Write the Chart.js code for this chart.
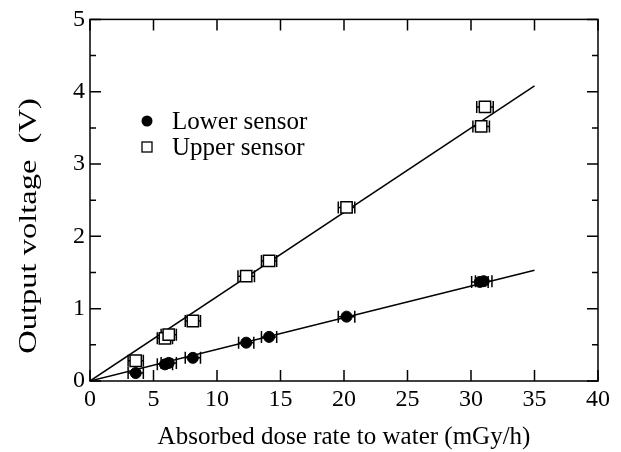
<!DOCTYPE html>
<html>
<head>
<meta charset="utf-8">
<script src="https://cdn.jsdelivr.net/npm/chart.js@4/dist/chart.umd.min.js"></script>
<style>
  html, body { margin: 0; padding: 0; background: #fff; }
  #wrap { width: 621px; height: 452px; }
</style>
</head>
<body>
<div id="wrap"><canvas id="c" width="621" height="452"></canvas></div>
<script>
// ---- data ----
const lowerDose   = [3.6, 5.9, 6.2, 8.1, 12.3, 14.1, 20.2, 30.7, 31.0];
const lowerVolt   = [0.11, 0.23, 0.25, 0.32, 0.53, 0.61, 0.89, 1.37, 1.38];
const lowerErr    = [0.6, 0.6, 0.6, 0.6, 0.6, 0.6, 0.65, 0.65, 0.65];

const upperDose   = [3.6, 5.9, 6.2, 8.1, 12.3, 14.1, 20.2, 30.8, 31.1];
const upperVolt   = [0.28, 0.59, 0.64, 0.83, 1.45, 1.66, 2.40, 3.52, 3.79];
const upperErr    = [0.6, 0.6, 0.6, 0.6, 0.65, 0.6, 0.65, 0.65, 0.65];

const lowerFitX   = [0, 35];
const lowerFitY   = [0, 1.53];
const upperFitX   = [0, 35];
const upperFitY   = [0, 4.08];

const xTicks      = [0, 5, 10, 15, 20, 25, 30, 35, 40];
const yTicks      = [0, 1, 2, 3, 4, 5];
const yMinorTicks = [0.5, 1.5, 2.5, 3.5, 4.5];

const seriesNames = ['Lower sensor', 'Upper sensor'];
const xTitle = 'Absorbed dose rate to water (mGy/h)';
const yTitle = 'Output voltage  (V)';

const FONT = "'Liberation Serif', 'Times New Roman', serif";

function pts(xs, ys) { return xs.map((x, i) => ({x: x, y: ys[i]})); }

const errPlugin = {
  id: 'errbars',
  beforeDatasetsDraw(chart) {
    const ctx = chart.ctx, xs = chart.scales.x, ys = chart.scales.y;
    ctx.save();
    ctx.strokeStyle = '#000';
    ctx.lineWidth = 1.5;
    chart.data.datasets.forEach(ds => {
      if (!ds.xErr) return;
      ds.data.forEach((p, i) => {
        const e = ds.xErr[i];
        const x1 = xs.getPixelForValue(p.x - e), x2 = xs.getPixelForValue(p.x + e);
        const y = ys.getPixelForValue(p.y);
        ctx.beginPath();
        ctx.moveTo(x1, y); ctx.lineTo(x2, y);
        ctx.moveTo(x1, y - 6); ctx.lineTo(x1, y + 6);
        ctx.moveTo(x2, y - 6); ctx.lineTo(x2, y + 6);
        ctx.stroke();
      });
    });
    ctx.restore();
  }
};

const framePlugin = {
  id: 'frame',
  afterDraw(chart) {
    const ctx = chart.ctx, a = chart.chartArea, xs = chart.scales.x, ys = chart.scales.y;
    ctx.save();
    ctx.strokeStyle = '#000';
    ctx.lineWidth = 1.5;
    ctx.strokeRect(a.left, a.top, a.right - a.left, a.bottom - a.top);
    ctx.beginPath();
    xTicks.forEach(v => {
      const x = xs.getPixelForValue(v);
      ctx.moveTo(x, a.bottom); ctx.lineTo(x, a.bottom - 11);
      ctx.moveTo(x, a.top); ctx.lineTo(x, a.top + 11);
    });
    yTicks.forEach(v => {
      const y = ys.getPixelForValue(v);
      ctx.moveTo(a.left, y); ctx.lineTo(a.left + 11, y);
      ctx.moveTo(a.right, y); ctx.lineTo(a.right - 11, y);
    });
    yMinorTicks.forEach(v => {
      const y = ys.getPixelForValue(v);
      ctx.moveTo(a.left, y); ctx.lineTo(a.left + 6, y);
      ctx.moveTo(a.right, y); ctx.lineTo(a.right - 6, y);
    });
    ctx.stroke();

    // y-axis title (wide-set, as in the reference)
    ctx.save();
    ctx.translate(29, 226);
    ctx.rotate(-Math.PI / 2);
    ctx.scale(1.3, 1);
    ctx.font = '25px ' + FONT;
    ctx.fillStyle = '#000';
    ctx.textAlign = 'center';
    ctx.textBaseline = 'middle';
    ctx.fillText(yTitle, 0, 0);
    ctx.restore();

    // legend
    ctx.font = '25px ' + FONT;
    ctx.fillStyle = '#000';
    ctx.textBaseline = 'middle';
    ctx.textAlign = 'left';
    ctx.beginPath();
    ctx.arc(147, 121, 5.5, 0, Math.PI * 2);
    ctx.fill();
    ctx.fillText(seriesNames[0], 172, 122);
    ctx.fillStyle = '#fff';
    ctx.fillRect(142, 142, 10, 10);
    ctx.lineWidth = 1.3;
    ctx.strokeRect(142, 142, 10, 10);
    ctx.fillStyle = '#000';
    ctx.fillText(seriesNames[1], 172, 148);
    ctx.restore();
  }
};

new Chart(document.getElementById('c'), {
  type: 'scatter',
  data: {
    datasets: [
      {
        label: seriesNames[0], data: pts(lowerDose, lowerVolt), xErr: lowerErr,
        pointStyle: 'circle', pointRadius: 5.5, pointHoverRadius: 5.5,
        backgroundColor: '#000', borderColor: '#000', borderWidth: 1, order: 1
      },
      {
        label: seriesNames[1], data: pts(upperDose, upperVolt), xErr: upperErr,
        pointStyle: 'rect', pointRadius: 8, pointHoverRadius: 8,
        backgroundColor: '#fff', borderColor: '#000', borderWidth: 1.5, order: 1
      },
      {
        label: 'fit lower', data: pts(lowerFitX, lowerFitY), showLine: true,
        pointRadius: 0, borderColor: '#000', borderWidth: 1.5, order: 3
      },
      {
        label: 'fit upper', data: pts(upperFitX, upperFitY), showLine: true,
        pointRadius: 0, borderColor: '#000', borderWidth: 1.5, order: 3
      }
    ]
  },
  options: {
    responsive: false,
    animation: false,
    layout: { padding: { left: 0, right: 23, top: 18, bottom: 0 } },
    plugins: { legend: { display: false }, tooltip: { enabled: false } },
    scales: {
      x: {
        type: 'linear', min: 0, max: 40,
        afterBuildTicks(s) { s.ticks = xTicks.map(v => ({value: v})); },
        afterFit(s) { s.height = 71; },
        grid: { display: false, drawTicks: false },
        border: { display: false },
        ticks: { color: '#000', padding: 4, maxRotation: 0, font: { family: FONT, size: 24 } },
        title: { display: true, text: xTitle, color: '#000', padding: { top: 0, bottom: 0 },
                 font: { family: FONT, size: 25 } }
      },
      y: {
        type: 'linear', min: 0, max: 5,
        afterBuildTicks(s) { s.ticks = yTicks.map(v => ({value: v})); },
        afterFit(s) { s.width = 90; },
        grid: { display: false, drawTicks: false },
        border: { display: false },
        ticks: { color: '#000', padding: 5, font: { family: FONT, size: 24 } },
        title: { display: false, text: yTitle }
      }
    }
  },
  plugins: [errPlugin, framePlugin]
});
</script>
</body>
</html>
